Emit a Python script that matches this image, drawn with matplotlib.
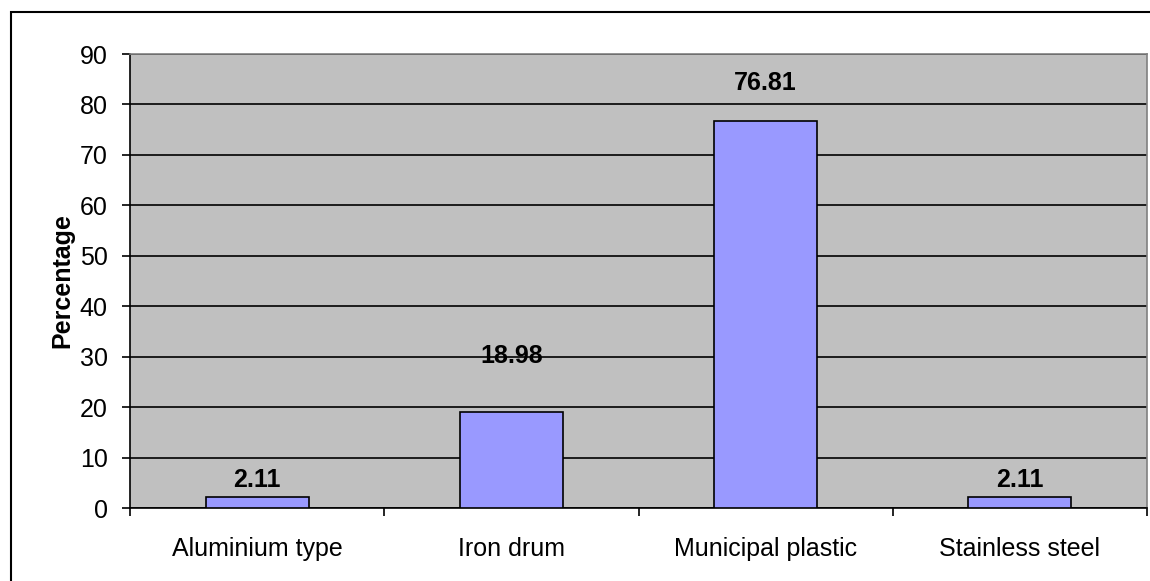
import matplotlib.pyplot as plt
from matplotlib.patches import Rectangle

categories = ['Aluminium type', 'Iron drum', 'Municipal plastic', 'Stainless steel']
values = [2.11, 18.98, 76.81, 2.11]
# vertical gap (pixels) between bar top and its value label
label_gap = [17, 56, 38, 17]

plt.rcParams['font.family'] = ['Liberation Sans', 'DejaVu Sans']
FS = 18

fig = plt.figure(figsize=(11.5, 5.81), dpi=100)
ax = fig.add_axes([130 / 1150, 1 - 508 / 581, 1017 / 1150, 454 / 581])

# outer chart border
fig.add_artist(Rectangle((11 / 1150, -0.05), 1.2, 1 - 12 / 581 + 0.05,
                         transform=fig.transFigure, fill=False,
                         edgecolor='black', linewidth=1.5))

ax.set_facecolor('#c0c0c0')
x = range(len(categories))
ax.bar(x, values, width=0.405, color='#9999ff', edgecolor='black',
       linewidth=1.2, zorder=3)

for xi, v, g in zip(x, values, label_gap):
    ax.annotate(f'{v:.2f}', (xi, v), xytext=(0, g * 0.72), textcoords='offset points',
                ha='center', va='center', fontsize=FS, fontweight='bold')

ax.set_xlim(-0.5, len(categories) - 0.5)
ax.set_ylim(0, 90)
ax.set_yticks(range(0, 91, 10))
ax.yaxis.grid(True, color='black', linewidth=1.2, zorder=1)
ax.set_axisbelow(True)

# category boundary ticks below the axis
ax.set_xticks([i - 0.5 for i in range(len(categories) + 1)])
ax.set_xticklabels([])
ax.set_xticks(list(x), minor=True)
ax.set_xticklabels(categories, minor=True, fontsize=FS)
ax.tick_params(axis='x', which='minor', length=0, pad=21)
ax.tick_params(axis='x', which='major', length=6, width=1.2, direction='out')
ax.tick_params(axis='y', length=6, width=1.2, direction='out', labelsize=FS, pad=10)

for side in ('top', 'right'):
    ax.spines[side].set_color('#808080')
    ax.spines[side].set_linewidth(1.2)
for side in ('left', 'bottom'):
    ax.spines[side].set_color('black')
    ax.spines[side].set_linewidth(1.2)

ax.set_ylabel('Percentage', fontsize=FS, fontweight='bold', labelpad=4)

fig.savefig('out.png', dpi=100)
